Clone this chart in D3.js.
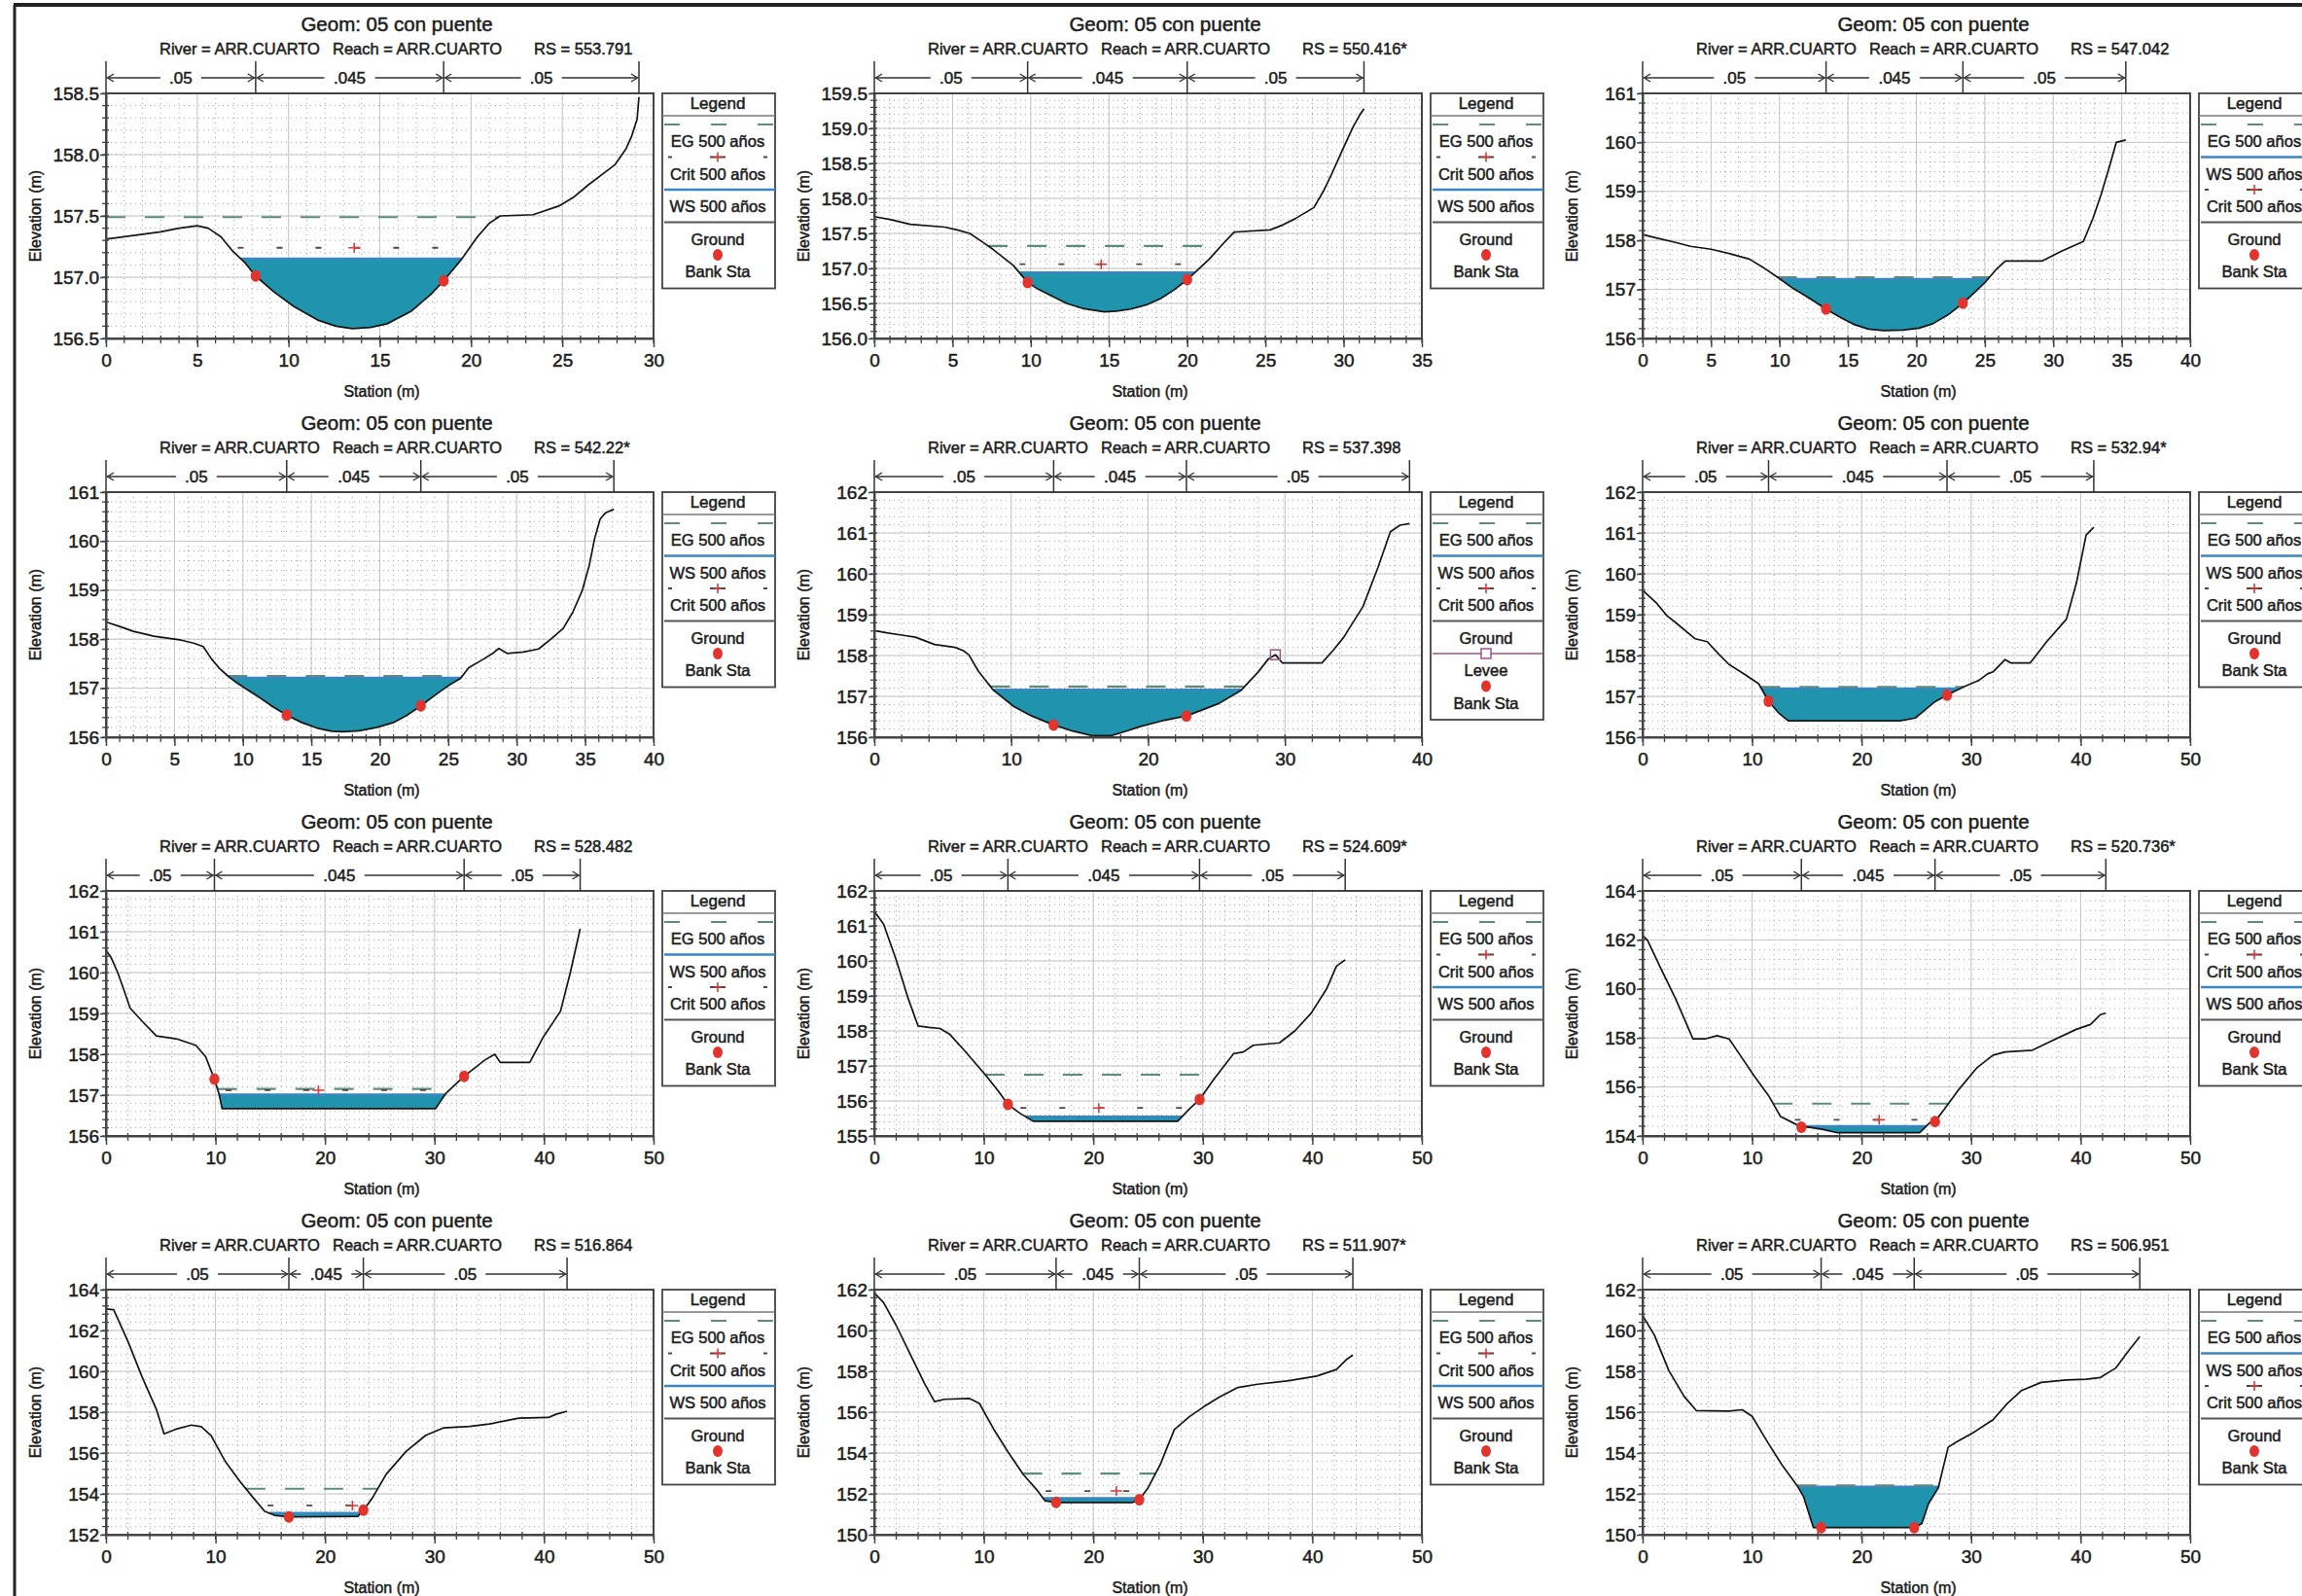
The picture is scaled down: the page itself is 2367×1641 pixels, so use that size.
<!DOCTYPE html>
<html>
<head>
<meta charset="utf-8">
<script src="https://cdn.jsdelivr.net/npm/d3@7"></script>
<style>
  html, body { margin: 0; padding: 0; background: #fff; }
  svg { display: block; font-family: "Liberation Sans", Arial, Helvetica, sans-serif; }
  svg text { fill: #1c1c1c; stroke: #1c1c1c; stroke-width: 0.5px; }
</style>
</head>
<body>
<svg id="chart" width="2367" height="1641"></svg>
<script>
// ---------------------------------------------------------------
// HEC-RAS cross sections, Arroyo Cuarto, plan "05 con puente"
// Ground profiles: [station (m), elevation (m)]
// ---------------------------------------------------------------
const groundRS553 = [[0,157.31],[1,157.33],[2,157.35],[3,157.37],[4,157.40],[5,157.42],[5.6,157.40],[6.3,157.33],[6.9,157.22],[7.6,157.12],[8.2,157.01],[9.2,156.88],[10.3,156.76],[11.6,156.65],[12.6,156.60],[13.5,156.58],[14.5,156.59],[15.4,156.62],[16.7,156.72],[17.8,156.86],[18.5,156.97],[19.5,157.15],[20.3,157.32],[21.0,157.44],[21.6,157.50],[23.4,157.51],[24.8,157.58],[25.6,157.65],[26.4,157.75],[27.2,157.84],[27.9,157.92],[28.5,158.05],[28.8,158.15],[29.1,158.29],[29.2,158.47]];
const groundRS550 = [[0,157.74],[1,157.70],[2.3,157.63],[4.5,157.59],[5.3,157.55],[6.1,157.50],[6.9,157.38],[7.6,157.27],[8.9,157.04],[9.8,156.80],[10.5,156.70],[11.4,156.60],[12.3,156.50],[13.3,156.43],[14.7,156.38],[15.5,156.39],[16.4,156.42],[17.4,156.48],[18.3,156.57],[19.2,156.70],[20.0,156.84],[21.4,157.13],[22.2,157.33],[23.0,157.52],[25.3,157.55],[26.1,157.62],[26.9,157.71],[28.1,157.87],[28.7,158.10],[29.2,158.33],[29.9,158.68],[30.6,159.02],[31.0,159.18],[31.3,159.28]];
const groundRS547 = [[0,158.12],[1,158.05],[2.4,157.96],[3.5,157.88],[5,157.82],[6.5,157.72],[7.8,157.62],[8.8,157.45],[9.9,157.24],[11,157.02],[12.2,156.82],[13.4,156.60],[14.5,156.42],[15.5,156.28],[16.5,156.19],[17.6,156.16],[19,156.17],[20.2,156.21],[21.2,156.30],[22.3,156.48],[23.4,156.72],[24.3,156.95],[25.1,157.17],[25.8,157.40],[26.5,157.58],[29.2,157.58],[30.6,157.78],[32.2,157.98],[32.9,158.45],[33.5,158.94],[34.1,159.50],[34.6,160.00],[35.3,160.05]];
const groundRS542 = [[0,158.35],[1,158.26],[2,158.16],[3.5,158.06],[5.5,157.98],[6.4,157.92],[7.1,157.85],[7.7,157.60],[8.3,157.40],[8.9,157.25],[9.6,157.10],[11,156.85],[12.2,156.62],[13.2,156.45],[14.3,156.30],[15.5,156.18],[16.5,156.12],[17.3,156.11],[18.5,156.13],[19.8,156.20],[21,156.30],[22,156.45],[23,156.64],[24,156.85],[25,157.05],[25.9,157.20],[26.5,157.42],[27.5,157.58],[28.2,157.70],[28.7,157.81],[29.3,157.71],[30.5,157.74],[31.6,157.80],[32.5,158.00],[33.4,158.22],[34.1,158.55],[34.8,159.00],[35.3,159.50],[35.7,160.06],[36.1,160.45],[36.5,160.58],[37.1,160.65]];
const groundRS537 = [[0,158.61],[1,158.55],[2,158.50],[3,158.45],[4.4,158.27],[5.9,158.20],[6.5,158.12],[6.9,158.02],[7.6,157.62],[8.7,157.15],[10.2,156.75],[11.5,156.52],[13.1,156.30],[14.5,156.15],[15.9,156.04],[17.3,156.04],[18.4,156.15],[19.4,156.26],[21,156.40],[22.8,156.52],[24.2,156.70],[25.2,156.83],[26.8,157.15],[28.0,157.58],[28.8,157.92],[29.3,158.02],[29.8,157.82],[32.7,157.82],[33.5,158.12],[34.3,158.45],[35.7,159.20],[36.8,160.16],[37.7,161.03],[38.4,161.19],[39.1,161.23]];
const groundRS532 = [[0,159.60],[1.25,159.29],[2.2,158.98],[3,158.81],[4.8,158.41],[5.9,158.34],[7,158.02],[7.9,157.78],[9.3,157.54],[10.6,157.31],[11.5,156.88],[12.4,156.60],[13.3,156.40],[23.5,156.40],[24.9,156.47],[25.8,156.67],[26.7,156.87],[27.8,157.03],[29.3,157.23],[30.7,157.39],[31.5,157.55],[32,157.60],[33.1,157.90],[33.6,157.82],[35.4,157.82],[36.9,158.34],[38.7,158.89],[39.6,159.76],[40.5,160.95],[41.2,161.14]];
const groundRS528 = [[0,160.55],[0.5,160.35],[1.07,160.00],[1.6,159.60],[2.2,159.13],[3.3,158.81],[4.6,158.45],[6.4,158.38],[8.2,158.22],[9.1,157.94],[9.9,157.39],[10.3,157.05],[10.6,156.67],[30.1,156.67],[31.0,157.03],[32.7,157.46],[34.6,157.86],[35.5,158.00],[36.0,157.80],[38.7,157.80],[39.9,158.41],[41.5,159.05],[42.4,160.00],[43.3,161.07]];
const groundRS524 = [[0,161.42],[0.85,161.05],[2.0,160.03],[3.1,158.92],[4.0,158.14],[5,158.10],[6.0,158.07],[6.9,157.90],[8.2,157.45],[10.0,156.80],[11.3,156.29],[12.2,155.90],[13.3,155.65],[14.5,155.42],[27.7,155.42],[28.8,155.78],[29.7,156.04],[31.0,156.62],[32.8,157.35],[33.7,157.40],[34.6,157.59],[37.0,157.66],[38.4,158.00],[39.9,158.51],[41.3,159.20],[42.2,159.85],[43.0,160.03]];
const groundRS520 = [[0,162.18],[0.45,161.98],[1.7,160.80],[3.0,159.61],[4.6,157.96],[5.7,157.96],[6.8,158.09],[7.9,157.96],[9.1,157.17],[10.2,156.44],[11.5,155.65],[12.6,154.79],[13.5,154.59],[14.5,154.36],[15.1,154.36],[16.4,154.27],[17.8,154.13],[25.3,154.13],[26.2,154.53],[26.7,154.59],[27.6,155.12],[28.9,155.91],[30.5,156.77],[32.0,157.30],[33.1,157.43],[35.6,157.50],[37.4,157.89],[39.6,158.35],[40.9,158.55],[41.8,158.95],[42.3,159.01]];
const groundRS516 = [[0,163.05],[0.7,163.02],[2.0,161.47],[3.3,159.72],[4.6,158.14],[5.3,156.94],[6.4,157.17],[7.8,157.37],[8.7,157.29],[9.6,156.85],[10.9,155.58],[12.2,154.63],[13.4,153.84],[14.5,153.14],[15.4,152.95],[16.7,152.87],[23.0,152.90],[23.5,153.20],[24.3,153.78],[25.6,154.97],[27.4,156.08],[29.2,156.87],[30.8,157.23],[33.2,157.30],[35.0,157.42],[37.7,157.71],[40.4,157.74],[41.1,157.90],[42.1,158.05]];
const groundRS511 = [[0,161.84],[0.85,161.36],[2.0,160.25],[3.3,158.82],[4.6,157.39],[5.5,156.52],[6.4,156.63],[8.7,156.67],[9.6,156.43],[10.9,155.17],[12.2,154.06],[13.6,152.95],[14.9,152.16],[15.6,151.66],[16.6,151.58],[23.6,151.58],[24.2,151.71],[25.0,152.30],[26.1,153.42],[27.4,155.15],[28.8,155.79],[30.1,156.27],[31.5,156.74],[33.2,157.21],[35.0,157.37],[37.7,157.53],[40.4,157.77],[42.2,158.09],[43.1,158.57],[43.7,158.80]];
const groundRS506 = [[0,160.73],[1.07,159.78],[2.4,158.03],[3.8,156.77],[4.9,156.08],[7.8,156.05],[9.1,156.12],[10.0,155.80],[11.4,154.54],[12.7,153.44],[14.1,152.41],[14.7,151.86],[15.6,150.35],[24.8,150.35],[25.5,150.55],[26.1,151.51],[27.0,152.30],[27.9,154.28],[28.6,154.52],[30.2,155.00],[32.0,155.63],[33.3,156.42],[34.6,157.06],[36.4,157.46],[38.7,157.58],[40.5,157.61],[41.8,157.70],[43.2,158.16],[44.3,158.95],[45.4,159.70]];

// River stations, in drawing order (3 per row)
const riverStations = ["553.791","550.416*","547.042","542.22*","537.398","532.94*","528.482","524.609*","520.736*","516.864","511.907*","506.951"];

// 500-year profile results per section (m)
const wsElev   = [157.15,156.94,157.21,157.21,157.16,157.19,157.01,155.55,154.40,153.06,151.79,152.35];
const egElev   = [157.49,157.32,157.25,157.25,157.24,157.23,157.15,156.75,155.32,154.25,152.99,152.41];
const critElev = [157.24,157.06,null,null,null,null,157.12,155.80,154.66,153.43,152.14,null];
// station where the critical-depth marker sits
const critMarkSta = [13.6,14.5,null,null,null,null,19.4,20.5,21.6,22.5,22.1,null];

// Bank stations (m)
const bankLeft  = [8.2,9.8,13.4,13.2,13.1,11.5,9.9,12.2,14.5,16.7,16.6,16.3];
const bankRight = [18.5,20.0,23.4,23.0,22.8,27.8,32.7,29.7,26.7,23.5,24.2,24.8];

// Levee points (only one section has one)
const leveeSta  = [null,null,null,null,29.3,null,null,null,null,null,null,null];
const leveeElev = [null,null,null,null,158.02,null,null,null,null,null,null,null];

// Manning's n per subsection
const manningN = [".05",".045",".05"];

// Axis ranges
const xMax  = [30,35,40,40,40,50,50,50,50,50,50,50];
const xStep = [5,5,5,5,10,10,10,10,10,10,10,10];
const yMin  = [156.5,156,156,156,156,156,156,155,154,152,150,150];
const yMax  = [158.5,159.5,161,161,162,162,162,162,164,164,162,162];
const yStep = [0.5,0.5,1,1,1,1,1,1,2,2,2,2];

// Legend entries per section
const legendA = ["EG","Crit","WS","Ground","Bank"];
const legendB = ["EG","WS","Crit","Ground","Bank"];
const legendC = ["EG","WS","Crit","Ground","Levee","Bank"];
const legendOrder = [legendA,legendA,legendB,legendB,legendC,legendB,legendB,legendA,legendA,legendA,legendA,legendB];
const legendText = {EG:"EG 500 años", WS:"WS 500 años", Crit:"Crit 500 años", Ground:"Ground", Levee:"Levee", Bank:"Bank Sta"};

const grounds = [groundRS553,groundRS550,groundRS547,groundRS542,groundRS537,groundRS532,groundRS528,groundRS524,groundRS520,groundRS516,groundRS511,groundRS506];

// ---------------------------------------------------------------
// Layout and styles
// ---------------------------------------------------------------
const PW = 563, PH = 252;          // plot area
const COL_DX = 790, ROW_DY = 410;
const ORIGIN_X = 109, ORIGIN_Y = 96;

const C = {
  ground: "#141414",
  water: "#2093ad",
  ws: "#3a86c4",
  eg: "#5c8c7c",
  crit: "#5a4040",
  critPlus: "#d83a3a",
  bank: "#e2332c",
  levee: "#a0508c",
  frame: "#444",
  gridMajor: "#c6c6c6",
  gridMinor: "#a4a4a4"
};

const svg = d3.select("#chart");

// outer frame of the sheet
svg.append("line").attr("x1", 14).attr("x2", 2367).attr("y1", 5).attr("y2", 5)
  .attr("stroke", "#222").attr("stroke-width", 4);
svg.append("line").attr("x1", 15).attr("x2", 15).attr("y1", 5).attr("y2", 1641)
  .attr("stroke", "#222").attr("stroke-width", 3);

function interpY(g, x) {
  for (let k = 0; k < g.length - 1; k++) {
    const a = g[k], b = g[k + 1];
    if (x >= a[0] && x <= b[0]) {
      const t = b[0] === a[0] ? 0 : (x - a[0]) / (b[0] - a[0]);
      return a[1] + t * (b[1] - a[1]);
    }
  }
  return g[g.length - 1][1];
}

// contiguous wetted stretch around the thalweg for a given level
function wetted(g, level) {
  const iMin = d3.minIndex(g, d => d[1]);
  if (g[iMin][1] >= level) return null;
  let i = iMin;
  while (i > 0 && g[i - 1][1] < level) i--;
  let j = iMin;
  while (j < g.length - 1 && g[j + 1][1] < level) j++;
  const cross = (a, b) => a[0] + (level - a[1]) / (b[1] - a[1]) * (b[0] - a[0]);
  const xl = i === 0 ? g[0][0] : cross(g[i - 1], g[i]);
  const xr = j === g.length - 1 ? g[j][0] : cross(g[j], g[j + 1]);
  return { xl, xr, pts: g.slice(i, j + 1) };
}

function drawPanel(idx) {
  const col = idx % 3, row = Math.floor(idx / 3);
  const left = ORIGIN_X + col * COL_DX, top = ORIGIN_Y + row * ROW_DY;
  const g = grounds[idx];
  const root = svg.append("g").attr("transform", `translate(${left},${top})`);

  const x = d3.scaleLinear().domain([0, xMax[idx]]).range([0, PW]);
  const y = d3.scaleLinear().domain([yMin[idx], yMax[idx]]).range([PH, 0]);

  const xMajor = d3.range(0, xMax[idx] + 1e-9, xStep[idx]);
  const xMinor = d3.range(0, xMax[idx] + 1e-9, xStep[idx] / 5);
  const nY = Math.round((yMax[idx] - yMin[idx]) / yStep[idx]);
  const yMajor = d3.range(0, nY + 1).map(k => yMin[idx] + k * yStep[idx]);
  const yMinor = d3.range(0, nY * 5 + 1).map(k => yMin[idx] + k * yStep[idx] / 5);

  // grid
  const grid = root.append("g");
  grid.selectAll(".gxm").data(xMinor).join("line")
    .attr("x1", d => x(d)).attr("x2", d => x(d)).attr("y1", 0).attr("y2", PH)
    .attr("stroke", C.gridMinor).attr("stroke-width", 1).attr("stroke-dasharray", "1,4");
  grid.selectAll(".gym").data(yMinor).join("line")
    .attr("y1", d => y(d)).attr("y2", d => y(d)).attr("x1", 0).attr("x2", PW)
    .attr("stroke", C.gridMinor).attr("stroke-width", 1).attr("stroke-dasharray", "1,4");
  grid.selectAll(".gxM").data(xMajor).join("line")
    .attr("x1", d => x(d)).attr("x2", d => x(d)).attr("y1", 0).attr("y2", PH)
    .attr("stroke", C.gridMajor).attr("stroke-width", 1);
  grid.selectAll(".gyM").data(yMajor).join("line")
    .attr("y1", d => y(d)).attr("y2", d => y(d)).attr("x1", 0).attr("x2", PW)
    .attr("stroke", C.gridMajor).attr("stroke-width", 1);

  // water fill below the water surface
  const w = wetted(g, wsElev[idx]);
  if (w) {
    const poly = [[w.xl, wsElev[idx]], ...w.pts, [w.xr, wsElev[idx]]];
    root.append("path")
      .attr("d", d3.line().x(d => x(d[0])).y(d => y(d[1]))(poly) + "Z")
      .attr("fill", C.water);
    root.append("line")
      .attr("x1", x(w.xl)).attr("x2", x(w.xr)).attr("y1", y(wsElev[idx])).attr("y2", y(wsElev[idx]))
      .attr("stroke", C.ws).attr("stroke-width", 2.5);
  }

  // energy grade line
  const e = wetted(g, egElev[idx]);
  if (e) {
    root.append("line")
      .attr("x1", x(e.xl)).attr("x2", x(e.xr)).attr("y1", y(egElev[idx])).attr("y2", y(egElev[idx]))
      .attr("stroke", C.eg).attr("stroke-width", 2.2).attr("stroke-dasharray", "20,20");
  }

  // critical depth line
  if (critElev[idx] != null) {
    const c = wetted(g, critElev[idx]);
    if (c) {
      const yc = y(critElev[idx]);
      root.append("line")
        .attr("x1", x(c.xl)).attr("x2", x(c.xr)).attr("y1", yc).attr("y2", yc)
        .attr("stroke", C.crit).attr("stroke-width", 1.8).attr("stroke-dasharray", "6,34")
        .attr("stroke-dashoffset", -8);
      const xm = x(critMarkSta[idx]);
      root.append("path")
        .attr("d", `M${xm - 6},${yc}H${xm + 6}M${xm},${yc - 5}V${yc + 5}`)
        .attr("stroke", C.critPlus).attr("stroke-width", 1.6);
    }
  }

  // ground line
  root.append("path")
    .attr("d", d3.line().x(d => x(d[0])).y(d => y(d[1]))(g))
    .attr("fill", "none").attr("stroke", C.ground).attr("stroke-width", 1.7)
    .attr("stroke-linejoin", "round");

  // levee
  if (leveeSta[idx] != null) {
    root.append("rect")
      .attr("x", x(leveeSta[idx]) - 5).attr("y", y(leveeElev[idx]) - 5)
      .attr("width", 10).attr("height", 10)
      .attr("fill", "none").attr("stroke", C.levee).attr("stroke-width", 1.5);
  }

  // bank stations
  [bankLeft[idx], bankRight[idx]].forEach(b => {
    root.append("ellipse")
      .attr("cx", x(b)).attr("cy", y(interpY(g, b))).attr("rx", 5.2).attr("ry", 6)
      .attr("fill", C.bank);
  });

  // plot border
  root.append("rect").attr("x", 0).attr("y", 0).attr("width", PW).attr("height", PH)
    .attr("fill", "none").attr("stroke", C.frame).attr("stroke-width", 2);

  // axes
  const fmt = yStep[idx] < 1 ? d3.format(".1f") : d3.format("d");
  const ax = root.append("g").attr("transform", `translate(0,${PH})`)
    .call(d3.axisBottom(x).tickValues(xMajor).tickSize(9).tickSizeOuter(0).tickFormat(d3.format("d")));
  ax.select(".domain").attr("stroke", C.frame).attr("stroke-width", 2);
  ax.selectAll(".tick line").attr("stroke", C.frame).attr("stroke-width", 1.5);
  ax.selectAll(".tick text").attr("font-size", 19).attr("dy", "0.88em")
    .attr("font-family", "Liberation Sans, Arial, sans-serif");
  root.append("g").attr("transform", `translate(0,${PH})`)
    .selectAll("line").data(xMinor).join("line")
    .attr("x1", d => x(d)).attr("x2", d => x(d)).attr("y1", -3).attr("y2", 5)
    .attr("stroke", C.frame).attr("stroke-width", 1.3);

  const ay = root.append("g")
    .call(d3.axisLeft(y).tickValues(yMajor).tickSize(6).tickSizeOuter(0).tickFormat(fmt));
  ay.select(".domain").attr("stroke", C.frame).attr("stroke-width", 2);
  ay.selectAll(".tick line").attr("stroke", C.frame).attr("stroke-width", 1.5);
  ay.selectAll(".tick text").attr("font-size", 19).attr("x", -7)
    .attr("font-family", "Liberation Sans, Arial, sans-serif");
  root.append("g").selectAll("line").data(yMinor).join("line")
    .attr("y1", d => y(d)).attr("y2", d => y(d)).attr("x1", -4).attr("x2", 3)
    .attr("stroke", C.frame).attr("stroke-width", 1.3);

  // axis titles
  root.append("text").attr("x", PW / 2 + 2).attr("y", PH + 60)
    .attr("text-anchor", "middle").attr("font-size", 16).text("Station (m)");
  root.append("text").attr("transform", `translate(-67,${PH / 2}) rotate(-90)`)
    .attr("text-anchor", "middle").attr("font-size", 16).text("Elevation (m)");

  // titles
  root.append("text").attr("x", 299).attr("y", -64).attr("text-anchor", "middle")
    .attr("font-size", 20.5).text("Geom: 05 con puente");
  root.append("text").attr("x", 55).attr("y", -40)
    .attr("font-size", 16.5).text("River = ARR.CUARTO");
  root.append("text").attr("x", 233).attr("y", -40)
    .attr("font-size", 16.5).text("Reach = ARR.CUARTO");
  root.append("text").attr("x", 440).attr("y", -40)
    .attr("font-size", 16.5).text("RS = " + riverStations[idx]);

  // Manning's n bar
  const last = g[g.length - 1][0];
  const bounds = [0, bankLeft[idx], bankRight[idx], last];
  const barY = -16;
  const bar = root.append("g").attr("stroke", "#333").attr("fill", "none");
  bounds.forEach(b => {
    bar.append("line").attr("x1", x(b)).attr("x2", x(b)).attr("y1", -33).attr("y2", 0)
      .attr("stroke-width", 1.5);
  });
  for (let s = 0; s < 3; s++) {
    const x0 = x(bounds[s]), x1 = x(bounds[s + 1]);
    const xm = (x0 + x1) / 2;
    const label = manningN[s];
    const half = label.length * 5 + 6;
    bar.append("path")
      .attr("d", `M${x0 + 1},${barY}H${xm - half}M${xm + half},${barY}H${x1 - 1}`)
      .attr("stroke-width", 1.5);
    bar.append("path")
      .attr("d", `M${x0 + 8},${barY - 4}L${x0 + 1.5},${barY}L${x0 + 8},${barY + 4}` +
                 `M${x1 - 8},${barY - 4}L${x1 - 1.5},${barY}L${x1 - 8},${barY + 4}`)
      .attr("stroke-width", 1.4);
    root.append("text").attr("x", xm).attr("y", barY + 6).attr("text-anchor", "middle")
      .attr("font-size", 17).text(label);
  }

  // legend
  const items = legendOrder[idx];
  const LW = 116, lx = PW + 9;
  const LH = 33 + 33.5 * items.length;
  const lg = root.append("g").attr("transform", `translate(${lx},0)`);
  lg.append("rect").attr("width", LW).attr("height", LH).attr("fill", "#fff")
    .attr("stroke", C.frame).attr("stroke-width", 1.8);
  lg.append("text").attr("x", 57).attr("y", 16).attr("text-anchor", "middle")
    .attr("font-size", 17).text("Legend");
  lg.append("line").attr("x1", 0).attr("x2", LW).attr("y1", 23).attr("y2", 23)
    .attr("stroke", "#777").attr("stroke-width", 1.5);
  items.forEach((key, i) => {
    const sy = 32 + 33.5 * i;
    if (key === "EG") {
      lg.append("line").attr("x1", 2).attr("x2", LW).attr("y1", sy).attr("y2", sy)
        .attr("stroke", C.eg).attr("stroke-width", 2).attr("stroke-dasharray", "16,32");
    } else if (key === "WS") {
      lg.append("line").attr("x1", 2).attr("x2", LW).attr("y1", sy).attr("y2", sy)
        .attr("stroke", C.ws).attr("stroke-width", 2.5);
    } else if (key === "Crit") {
      lg.append("path").attr("d", `M6,${sy}H10M104,${sy}H108M49,${sy}H65`)
        .attr("stroke", C.crit).attr("stroke-width", 1.8);
      lg.append("path").attr("d", `M57,${sy - 5}V${sy + 5}M53,${sy}H61`)
        .attr("stroke", C.critPlus).attr("stroke-width", 1.6);
    } else if (key === "Ground") {
      lg.append("line").attr("x1", 2).attr("x2", LW).attr("y1", sy).attr("y2", sy)
        .attr("stroke", "#555").attr("stroke-width", 2.2);
    } else if (key === "Levee") {
      lg.append("line").attr("x1", 2).attr("x2", LW).attr("y1", sy).attr("y2", sy)
        .attr("stroke", C.levee).attr("stroke-width", 1.5);
      lg.append("rect").attr("x", 52).attr("y", sy - 5).attr("width", 10).attr("height", 10)
        .attr("fill", "#fff").attr("stroke", C.levee).attr("stroke-width", 1.5);
    } else if (key === "Bank") {
      lg.append("ellipse").attr("cx", 57).attr("cy", sy).attr("rx", 5).attr("ry", 6).attr("fill", C.bank);
    }
    lg.append("text").attr("x", 57).attr("y", sy + 23)
      .attr("text-anchor", "middle").attr("font-size", 16.5)
      .text(legendText[key]);
  });
}

for (let i = 0; i < 12; i++) drawPanel(i);
</script>
</body>
</html>
